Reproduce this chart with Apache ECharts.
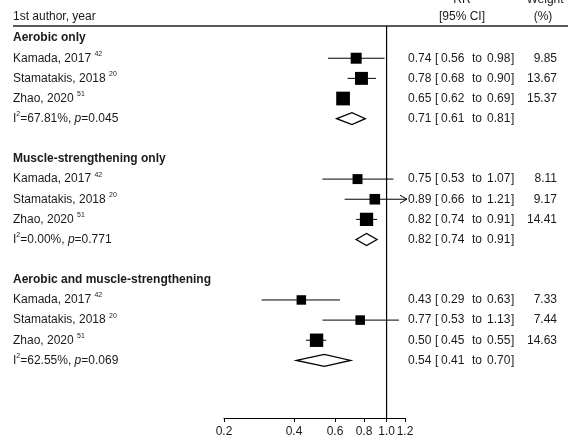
<!DOCTYPE html>
<html>
<head>
<meta charset="utf-8">
<script src="https://cdn.jsdelivr.net/npm/echarts@6/dist/echarts.min.js"></script>
<style>
    html, body { margin: 0; padding: 0; background: #fff; }
    #chart { width: 577px; height: 442px; }
</style>
</head>
<body>
<div id="chart"></div>
<script>
const groupNames = ["Aerobic only", "Muscle-strengthening only", "Aerobic and muscle-strengthening"];
const studyNames = ["Kamada, 2017", "Stamatakis, 2018", "Zhao, 2020"];
const studyRefs = ["42", "20", "51"];

const rrValues = [[0.74, 0.78, 0.65], [0.75, 0.89, 0.82], [0.43, 0.77, 0.50]];
const ciLower = [[0.56, 0.68, 0.62], [0.53, 0.66, 0.74], [0.29, 0.53, 0.45]];
const ciUpper = [[0.98, 0.90, 0.69], [1.07, 1.21, 0.91], [0.63, 1.13, 0.55]];
const weights = [[9.85, 13.67, 15.37], [8.11, 9.17, 14.41], [7.33, 7.44, 14.63]];

const pooledRR = [0.71, 0.82, 0.54];
const pooledLower = [0.61, 0.74, 0.41];
const pooledUpper = [0.81, 0.91, 0.70];
const i2Values = ["67.81%", "0.00%", "62.55%"];
const pValues = ["0.045", "0.771", "0.069"];

const xTicks = [0.2, 0.4, 0.6, 0.8, 1.0, 1.2];
const xMin = 0.2;
const xMax = 1.2;
const nullValue = 1;

const FONT = '"Liberation Sans", Arial, Helvetica, sans-serif';
const INK = "#1a1a1a";
const ROW_MIN = -0.6;
const ROW_MAX = 18.86;

// one row per line of the table: 0 = group title, 1 = study, 2 = pooled
const markData = [];
const textData = [];
groupNames.forEach((g, gi) => {
    const base = gi * 6;
    textData.push([nullValue, base, 0, gi, 0]);
    studyNames.forEach((s, si) => {
        const row = base + 1 + si;
        markData.push([rrValues[gi][si], ciLower[gi][si], ciUpper[gi][si], row, weights[gi][si], 0]);
        textData.push([nullValue, row, 1, gi, si]);
    });
    markData.push([pooledRR[gi], pooledLower[gi], pooledUpper[gi], base + 4, 0, 1]);
    textData.push([nullValue, base + 4, 2, gi, 0]);
});

const fmt = v => v.toFixed(2);

const rich = {
    n: { fontSize: 12, fontFamily: FONT, fill: INK, lineHeight: 16, verticalAlign: "middle" },
    s: { fontSize: 7, fontFamily: FONT, fill: INK, lineHeight: 16, verticalAlign: "top" },
    i: { fontSize: 12, fontFamily: FONT, fontStyle: "italic", fill: INK, lineHeight: 16, verticalAlign: "middle" }
};

function txt(x, y, text, extra) {
    return {
        type: "text",
        style: Object.assign({
            x: x, y: y, text: text, fill: INK,
            fontSize: 12, fontFamily: FONT,
            align: "left", verticalAlign: "middle"
        }, extra || {})
    };
}

function renderMark(params, api) {
    const rr = api.value(0);
    const lo = api.value(1);
    const hi = api.value(2);
    const row = api.value(3);
    const w = api.value(4);
    const pooled = api.value(5);

    const c = api.coord([rr, row]);
    const pLo = api.coord([lo, row]);
    const pHi = api.coord([Math.min(hi, xMax), row]);
    const children = [];

    if (pooled) {
        const h = 6;
        children.push({
            type: "polygon",
            shape: { points: [[pLo[0], c[1]], [c[0], c[1] - h], [pHi[0], c[1]], [c[0], c[1] + h]] },
            style: { fill: "#fff", stroke: "#000", lineWidth: 1.3 }
        });
    } else {
        let x2 = pHi[0];
        if (hi > xMax) x2 += 2;
        children.push({
            type: "line",
            shape: { x1: pLo[0], y1: c[1], x2: x2, y2: c[1] },
            style: { stroke: "#000", lineWidth: 1 }
        });
        if (hi > xMax) {
            children.push({
                type: "polyline",
                shape: { points: [[x2 - 7, c[1] - 4], [x2, c[1]], [x2 - 7, c[1] + 4]] },
                style: { stroke: "#000", lineWidth: 1, fill: null }
            });
        }
        const size = 3.5 * Math.sqrt(w);
        children.push({
            type: "rect",
            shape: { x: c[0] - size / 2, y: c[1] - size / 2, width: size, height: size },
            style: { fill: "#000" }
        });
    }
    return { type: "group", children: children };
}

function renderText(params, api) {
    const row = api.value(1);
    const kind = api.value(2);
    const gi = api.value(3);
    const si = api.value(4);
    const y = api.coord([nullValue, row])[1];
    const children = [];

    if (kind === 0) {
        children.push(txt(13, y, groupNames[gi], { fontWeight: "bold" }));
        return { type: "group", children: children };
    }

    let rr, lo, hi;
    if (kind === 1) {
        children.push(txt(13, y, "{n|" + studyNames[si] + " }{s|" + studyRefs[si] + "}", { rich: rich }));
        rr = rrValues[gi][si]; lo = ciLower[gi][si]; hi = ciUpper[gi][si];
        children.push(txt(557, y, weights[gi][si].toFixed(2), { align: "right" }));
    } else {
        children.push(txt(13, y, "{n|I}{s|2}{n|=" + i2Values[gi] + ", }{i|p}{n|=" + pValues[gi] + "}", { rich: rich }));
        rr = pooledRR[gi]; lo = pooledLower[gi]; hi = pooledUpper[gi];
    }
    children.push(txt(408, y, fmt(rr)));
    children.push(txt(435, y, "["));
    children.push(txt(441, y, fmt(lo)));
    children.push(txt(472, y, "to"));
    children.push(txt(487, y, fmt(hi)));
    children.push(txt(511, y, "]"));
    return { type: "group", children: children };
}

const chart = echarts.init(document.getElementById("chart"), null, { renderer: "canvas" });

chart.setOption({
    animation: false,
    backgroundColor: "#fff",
    grid: { left: 224, right: 172, top: 26, bottom: 24, containLabel: false },
    xAxis: {
        type: "log",
        position: "bottom",
        min: xMin,
        max: xMax,
        axisLine: { show: true, onZero: false, lineStyle: { color: "#000", width: 1.2 } },
        axisTick: { show: true, length: 4, customValues: xTicks, lineStyle: { color: "#000", width: 1 } },
        axisLabel: {
            customValues: xTicks,
            formatter: v => Number(v).toFixed(1),
            fontSize: 12,
            fontFamily: FONT,
            color: INK,
            margin: 8,
            hideOverlap: false,
            showMinLabel: true,
            showMaxLabel: true
        },
        splitLine: { show: false },
        minorTick: { show: false }
    },
    yAxis: {
        type: "value",
        inverse: true,
        min: ROW_MIN,
        max: ROW_MAX,
        show: false
    },
    graphic: [
        { type: "text", style: { x: 13, y: 17, text: "1st author, year", fill: INK, fontSize: 12, fontFamily: FONT, verticalAlign: "middle" } },
        { type: "text", style: { x: 462, y: 6, text: "RR", fill: INK, fontSize: 12, fontFamily: FONT, align: "center", verticalAlign: "bottom" } },
        { type: "text", style: { x: 462, y: 17, text: "[95% CI]", fill: INK, fontSize: 12, fontFamily: FONT, align: "center", verticalAlign: "middle" } },
        { type: "text", style: { x: 545, y: 6, text: "Weight", fill: INK, fontSize: 12, fontFamily: FONT, align: "center", verticalAlign: "bottom" } },
        { type: "text", style: { x: 543, y: 17, text: "(%)", fill: INK, fontSize: 12, fontFamily: FONT, align: "center", verticalAlign: "middle" } },
        { type: "line", shape: { x1: 13, y1: 26, x2: 568, y2: 26 }, style: { stroke: "#222", lineWidth: 1.5 } }
    ],
    series: [
        {
            name: "null line",
            type: "line",
            data: [[nullValue, ROW_MIN], [nullValue, ROW_MAX]],
            symbol: "none",
            lineStyle: { color: "#000", width: 1.2 },
            silent: true
        },
        {
            name: "estimates",
            type: "custom",
            renderItem: renderMark,
            data: markData,
            encode: { x: 0, y: 3 },
            clip: false
        },
        {
            name: "table",
            type: "custom",
            renderItem: renderText,
            data: textData,
            encode: { x: 0, y: 1 },
            clip: false
        }
    ]
});
</script>
</body>
</html>
